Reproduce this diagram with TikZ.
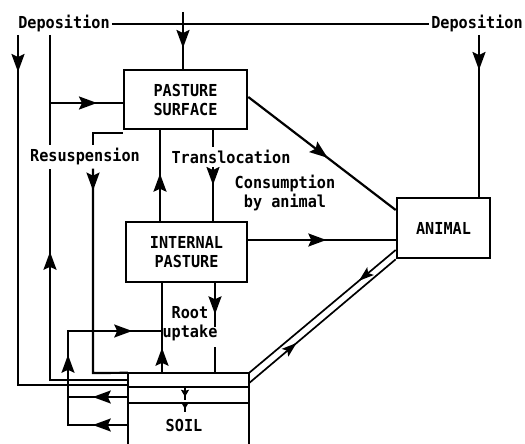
\documentclass[tikz,border=0pt]{standalone}
\usepackage{fontspec}
\newfontfamily\dmono[FakeStretch=0.92]{DejaVu Sans Mono}
\usetikzlibrary{arrows.meta,decorations.markings}
\tikzset{
  lbl/.style={font=\dmono\bfseries\fontsize{16.5}{19}\selectfont, inner sep=2pt, align=center},
  box/.style={draw, line width=2.6pt, lbl},
  ln/.style={line width=2.2pt},
  thinln/.style={line width=1.7pt},
  soilln/.style={line width=2.4pt},
  arr/.style={postaction={decorate, decoration={markings,
      mark=at position #1 with {\arrow{Stealth[length=18pt,width=13pt,inset=3pt]}}}}},
  sarr/.style={postaction={decorate, decoration={markings,
      mark=at position #1 with {\arrow{Stealth[length=15pt,width=10pt,inset=3pt]}}}}},
  tarr/.style={postaction={decorate, decoration={markings,
      mark=at position #1 with {\arrow{Stealth[length=7pt,width=8pt,inset=1pt]}}}}},
}
\begin{document}
\begin{tikzpicture}[x=1pt,y=-1pt]
\useasboundingbox (0,0) rectangle (525,444);
% nodes
\node[lbl] (depL) at (64,24) {Deposition};
\node[lbl] (depR) at (477,24) {Deposition};
\node[box, minimum width=123pt, minimum height=59pt] (ps) at (185.5,99.5) {PASTURE\\SURFACE};
\node[box, minimum width=121pt, minimum height=60pt] (ip) at (186.5,252) {INTERNAL\\PASTURE};
\node[box, minimum width=93pt, minimum height=60pt] (an) at (443.5,228) {ANIMAL};
\node[minimum width=121pt, minimum height=71pt, inner sep=0pt] (soil) at (188.5,408.5) {};
\node[lbl] (soilt) at (184,425) {SOIL};
\node[lbl, inner sep=3pt] (resus) at (85,157) {Resuspension};
\node[lbl, inner sep=3pt] (transl) at (231,157) {Translocation};
\node[lbl] (cons) at (285,193) {Consumption\\by animal};
\node[lbl, inner sep=0pt] (root) at (190,324) {Root\\uptake};
% free ends
\coordinate (topin) at (183,12);
\coordinate (dL1) at (18,35);
\coordinate (dL2) at (50,35);
\coordinate (dR) at (479,35);
% soil box
\draw[soilln] (soil.south west) -- (soil.north west) -- (soil.north east) -- (soil.south east);
\draw[ln] (soil.west |- 0,387) -- (soil.east |- 0,387);
\draw[ln] (soil.west |- 0,403) -- (soil.east |- 0,403);
\draw[thinln, tarr=10pt] (soil.north -| 185,0) ++(0,14) -- ++(0,13);
% deposition
\draw[ln] (depL.east) -- (depR.west);
\draw[ln, arr=36pt] (topin) -- (ps.north -| topin);
\draw[ln, arr=35pt] (dR) -- (an.north -| dR);
\draw[ln, arr=37pt] (dL1) -- (18,385) -- (soil.west |- 0,385);
\draw[ln] (dL2) -- (resus.north -| dL2);
\draw[ln, arr=47pt] (50,103) -- (ps.west |- 0,103);
\draw[ln, arr=206pt] (soil.west |- 0,380) -- (50,380) -- (resus.south -| dL2);
% pasture surface to soil
\draw[ln] ([yshift=-3pt]ps.south west) -| (resus.north -| 93,0);
\draw[ln, arr=22pt] (resus.south -| 93,0) -- (93,373) -- (soil.north west);
% translocation
\draw[ln, arr=47pt] (ip.north -| 160,0) -- (ps.south -| 160,0);
\draw[ln] (ps.south -| 213,0) -- (transl.north -| 213,0);
\draw[ln, arr=18pt] (transl.south -| 213,0) -- (ip.north -| 213,0);
% consumption
\draw[ln, arr=100pt] (ps.east |- 0,97) -- (an.west |- 0,210);
\draw[ln, arr=78pt] (ip.east |- 0,240) -- (an.west |- 0,240);
% animal <-> soil double line
\draw[thinln, sarr=48pt] (an.west |- 0,250) -- (soil.north east);
\draw[thinln, sarr=62pt] (soil.north east |- 0,383) -- (an.south west);
% root uptake
\draw[ln, arr=25pt] (soil.north -| 162,0) -- (ip.south -| 162,0);
\draw[thinln, arr=35pt, arr=130pt, arr=218pt] (soil.west |- 0,425) -- (68,425) -- (68,331) -- (162,331);
\draw[thinln, arr=35pt] (soil.west |- 0,397) -- (68,397);
\draw[ln, arr=31pt] (ip.south -| 215,0) -- (215,327);
\draw[ln] (215,347) -- (soil.north -| 215,0);
\draw[thinln, tarr=6pt] (185,403) -- (185,412);
\end{tikzpicture}
\end{document}
